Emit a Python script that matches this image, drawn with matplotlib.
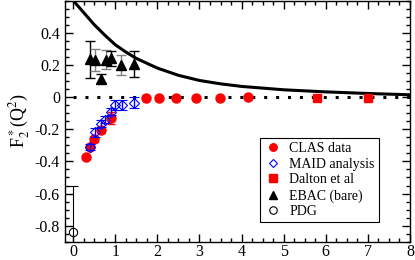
import numpy as np
import matplotlib
matplotlib.use('Agg')
import matplotlib.pyplot as plt
import matplotlib.ticker as ticker

plt.rcParams['font.family'] = ['Liberation Serif', 'DejaVu Serif']
plt.rcParams['mathtext.fontset'] = 'stix'

# CLAS data
clas_q2 = [0.3, 0.4, 0.5, 0.65, 0.9, 1.72, 2.05, 2.44, 2.91, 3.48, 4.16]
clas_f2 = [-0.375, -0.31, -0.26, -0.205, -0.13, -0.003, -0.003, -0.003, -0.004, -0.004, -0.002]
clas_err = [0.01, 0.015, 0.02, 0.02, 0.035, 0.008, 0.006, 0.006, 0.006, 0.006, 0.006]

# MAID analysis
maid_q2 = [0.4, 0.525, 0.65, 0.75, 0.9, 1.0, 1.15, 1.45]
maid_f2 = [-0.31, -0.22, -0.165, -0.14, -0.09, -0.05, -0.05, -0.035]
maid_err = [0.02, 0.03, 0.02, 0.02, 0.02, 0.03, 0.03, 0.035]

# Dalton et al
dalton_q2 = [5.8, 7.0]
dalton_f2 = [-0.007, -0.007]

# EBAC (bare)
ebac_q2 = [0.4, 0.525, 0.65, 0.775, 0.9, 1.13, 1.45]
ebac_f2 = [0.235, 0.23, 0.115, 0.232, 0.24, 0.20, 0.205]
ebac_err = [0.115, 0.07, 0.03, 0.06, 0.045, 0.06, 0.08]
ebac_gray = [False, True, False, True, False, True, False]

# PDG
pdg_q2 = [0.0]
pdg_f2 = [-0.84]
pdg_err = [0.29]

# model curve
curve_q2 = [0.0, 0.25, 0.5, 0.75, 1.0, 1.25, 1.5, 2.0, 2.5, 3.0, 3.5, 4.0, 5.0, 6.0, 7.0, 8.0]
curve_f2 = [0.60, 0.525, 0.45, 0.385, 0.325, 0.28, 0.24, 0.18, 0.135, 0.103, 0.082, 0.066, 0.045, 0.032, 0.022, 0.014]

fig = plt.figure(figsize=(4.15, 2.6), dpi=100)
ax = fig.add_axes([0.156, 0.07, 0.832, 0.928])

ax.plot(curve_q2, curve_f2, color='black', lw=2.2, zorder=2)
ax.plot([0, 8], [0, 0], color='black', lw=2.2, dashes=(1, 2.9), zorder=2)

for q, f, e, g in zip(ebac_q2, ebac_f2, ebac_err, ebac_gray):
    ax.errorbar(q, f, yerr=e, fmt='none', ecolor='gray' if g else 'black',
                elinewidth=1, capsize=3.5, zorder=3)
ax.plot(ebac_q2, ebac_f2, '^', color='black', ms=6.5, ls='', zorder=4)

ax.errorbar(clas_q2, clas_f2, yerr=clas_err, fmt='o', color='red', ms=6.5,
            elinewidth=1, capsize=3, zorder=4)
ax.errorbar(maid_q2, maid_f2, yerr=maid_err, fmt='D', color='blue', mfc='none',
            ms=5, mew=0.8, elinewidth=1, capsize=3.5, zorder=5)
ax.plot(dalton_q2, dalton_f2, 's', color='red', ms=6, ls='', zorder=4)
ax.errorbar(pdg_q2, pdg_f2, yerr=pdg_err, fmt='o', color='black', mfc='none',
            ms=6, mew=0.8, elinewidth=0.8, capsize=3.5, zorder=4)

# legend handles
h1, = ax.plot([], [], 'o', color='red', ms=6, ls='')
h2, = ax.plot([], [], 'D', color='blue', mfc='none', ms=5, mew=0.8, ls='')
h3, = ax.plot([], [], 's', color='red', ms=6, ls='')
h4, = ax.plot([], [], '^', color='black', ms=6, ls='')
h5, = ax.plot([], [], 'o', color='black', mfc='none', ms=6, mew=0.8, ls='')
leg = ax.legend([h1, h2, h3, h4, h5],
                ['CLAS data', 'MAID analysis', 'Dalton et al', 'EBAC (bare)', 'PDG'],
                loc='lower right', bbox_to_anchor=(0.91, 0.08), borderaxespad=0,
                fontsize=10, frameon=True, fancybox=False, edgecolor='black',
                framealpha=1, handlelength=1.2, handletextpad=0.6,
                labelspacing=0.2, borderpad=0.3, markerscale=0.9)
leg.get_frame().set_linewidth(0.8)

ax.set_xlim(-0.2, 8)
ax.set_ylim(-0.9, 0.6)
ax.xaxis.set_major_locator(ticker.MultipleLocator(1))
ax.xaxis.set_minor_locator(ticker.MultipleLocator(0.25))
ax.yaxis.set_major_locator(ticker.FixedLocator([-0.8, -0.6, -0.4, -0.2, 0, 0.2, 0.4]))
ax.yaxis.set_minor_locator(ticker.MultipleLocator(0.05))
ax.yaxis.set_major_formatter(ticker.FuncFormatter(lambda v, p: '0' if abs(v) < 1e-9 else f'{v:.1f}'))
ax.tick_params(which='both', direction='in', top=True, right=True, labelsize=11.5)
ax.tick_params(which='major', length=6, width=1)
ax.tick_params(which='minor', length=3, width=1)
ax.tick_params(axis='x', pad=1.5)
for s in ax.spines.values():
    s.set_linewidth(1)

ax.set_ylabel(r'F$_2^*$(Q$^2$)', fontsize=13, labelpad=2)

fig.savefig('out.png', dpi=100)
